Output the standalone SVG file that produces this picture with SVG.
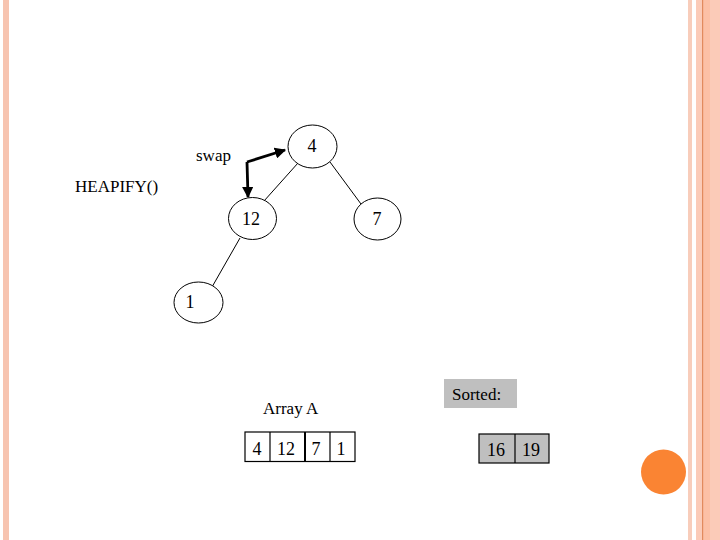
<svg xmlns="http://www.w3.org/2000/svg" width="720" height="540" viewBox="0 0 720 540">
<style>
.t{font-family:"Liberation Serif","Times New Roman",serif;font-size:17px;fill:#000}
.n{font-family:"Liberation Serif","Times New Roman",serif;font-size:18px;fill:#000;text-anchor:middle}
.node{fill:#fff;stroke:#000;stroke-width:1}
.edge{stroke:#000;stroke-width:1;fill:none}
.cell{stroke:#000;stroke-width:1.2}
</style>
<defs>
<marker id="ah" viewBox="0 0 10 10" refX="9" refY="5" markerWidth="4" markerHeight="4" orient="auto-start-reverse" markerUnits="strokeWidth">
<path d="M0,0 L10,5 L0,10 z" fill="#000"/>
</marker>
</defs>
<rect width="720" height="540" fill="#fff"/>
<g id="frame">
<rect x="3" y="0" width="6" height="540" fill="#F7C4B0"/>
<rect x="688" y="0" width="4" height="540" fill="#F8CDBB"/>
<rect x="696" y="0" width="24" height="540" fill="#FBCBB8"/>
<rect x="703" y="0" width="7" height="540" fill="#FCC0A6"/>
<rect x="702" y="0" width="1.2" height="540" fill="#E28A5E"/>
<circle cx="663.5" cy="472" r="22.5" fill="#FA8433"/>
</g>
<g id="connectors">
<line class="edge" x1="298" y1="163" x2="264" y2="201"/>
<line class="edge" x1="330" y1="162" x2="361" y2="204"/>
<line class="edge" x1="240" y1="238" x2="212" y2="287"/>
<path d="M247,162 L285,150" stroke="#000" stroke-width="2.8" fill="none" marker-end="url(#ah)"/>
<path d="M247,162 L248,197" stroke="#000" stroke-width="2.8" fill="none" marker-end="url(#ah)"/>
</g>
<g id="node4"><ellipse class="node" cx="312.5" cy="146.5" rx="24.5" ry="21.5"/><text class="n" x="312" y="152">4</text></g>
<g id="node12"><ellipse class="node" cx="252.5" cy="218.5" rx="24" ry="21"/><text class="n" x="251" y="225">12</text></g>
<g id="node7"><ellipse class="node" cx="377.5" cy="219" rx="23.5" ry="21"/><text class="n" x="377" y="225">7</text></g>
<g id="node1"><ellipse class="node" cx="198.5" cy="302.5" rx="24.5" ry="20.5"/><text class="n" x="190" y="308">1</text></g>
<g id="labels">
<text class="t" x="196" y="161">swap</text>
<text class="t" x="75" y="192">HEAPIFY()</text>
<text class="t" x="263" y="414">Array A</text>
</g>
<g id="arrayA">
<rect class="cell" x="245" y="432" width="110" height="29.5" fill="#fff"/>
<line class="cell" x1="270" y1="432" x2="270" y2="461.5"/>
<line x1="305" y1="432" x2="305" y2="461.5" stroke="#000" stroke-width="2"/>
<line class="cell" x1="330" y1="432" x2="330" y2="461.5"/>
<text class="n" x="257" y="455">4</text>
<text class="n" x="286" y="455">12</text>
<text class="n" x="316" y="455">7</text>
<text class="n" x="341" y="455">1</text>
</g>
<g id="sorted">
<rect x="444" y="379" width="73" height="29" fill="#BFBFBF"/>
<text class="t" x="452" y="400">Sorted:</text>
<rect class="cell" x="479" y="434" width="70" height="29" fill="#BFBFBF"/>
<line class="cell" x1="515" y1="434" x2="515" y2="463"/>
<text class="n" x="496" y="456">16</text>
<text class="n" x="531" y="456">19</text>
</g>
</svg>
